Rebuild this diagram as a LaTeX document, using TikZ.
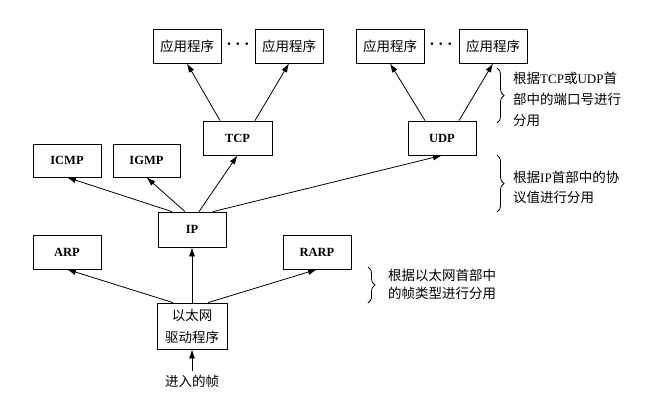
\documentclass[tikz,border=0pt]{standalone}
\usepackage{fontspec}
\setmainfont{Liberation Serif}
\newfontfamily\cjk{Noto Sans CJK SC}
\usetikzlibrary{arrows.meta,decorations.pathreplacing}
\begin{document}
\begin{tikzpicture}[x=1pt,y=-1pt,
  box/.style={draw,line width=0.8pt,inner sep=0pt,minimum width=68pt,minimum height=34pt},
  lbl/.style={font=\fontsize{12.5}{14}\selectfont\bfseries},
  cn/.style={font=\fontsize{13.5}{14}\selectfont\cjk},
  arr/.style={line width=0.8pt,-{Latex[length=9pt,width=6pt]}},
  brc/.style={decorate,decoration={brace,amplitude=7pt},line width=0.8pt},
  note/.style={anchor=west,align=left,inner sep=0pt},
  dotsty/.style={font=\fontsize{17}{17}\selectfont\boldmath},
]
\fill[white] (0,0) rectangle (670,402);
\useasboundingbox (0,0) rectangle (670,402);

% application boxes
\node[box,cn] (app1) at (187,46) {应用程序};
\node[box,cn] (app2) at (289,46) {应用程序};
\node[box,cn] (app3) at (390,46) {应用程序};
\node[box,cn] (app4) at (493,46) {应用程序};
\node[dotsty] (dots1) at (238,44) {$\cdots$};
\node[dotsty] (dots2) at (441,44) {$\cdots$};

% transport
\node[box,lbl,minimum width=69pt] (tcp) at (237.5,138) {TCP};
\node[box,lbl] (udp) at (442,138) {UDP};

% network
\node[box,lbl,minimum height=33pt] (icmp) at (67,160.5) {ICMP};
\node[box,lbl,minimum height=33pt,minimum width=67pt] (igmp) at (146.5,160.5) {IGMP};
\node[box,lbl,minimum height=35pt] (ip) at (192,229.5) {IP};

% link
\node[box,lbl] (arp) at (67,252) {ARP};
\node[box,lbl] (rarp) at (317,252) {RARP};
\node[box,cn,minimum width=70pt,minimum height=46pt,align=center,
      font=\fontsize{13.5}{22}\selectfont\cjk] (eth) at (192,326) {以太网\\驱动程序};
\node[cn] (frame) at (192,381) {进入的帧};

% connectors
\draw[arr] (frame.north) -- (eth.south);
\draw[arr] ([xshift=-19pt]eth.north) -- (arp.south);
\draw[arr] (eth.north) -- (ip.south);
\draw[arr] ([xshift=16pt]eth.north) -- (rarp.south);

\draw[arr] ([xshift=-20pt]ip.north) -- (icmp.south);
\draw[arr] ([xshift=-7pt]ip.north) -- (igmp.south);
\draw[arr] ([xshift=7pt]ip.north) -- (tcp.south);
\draw[arr] ([xshift=21pt]ip.north) -- (udp.south);

\draw[arr] ([xshift=-17.5pt]tcp.north) -- (app1.south);
\draw[arr] ([xshift=17.5pt]tcp.north) -- (app2.south);
\draw[arr] ([xshift=-17pt]udp.north) -- (app3.south);
\draw[arr] ([xshift=17pt]udp.north) -- (app4.south);

% braces and notes
\coordinate (b1a) at (497,68);
\coordinate (b1b) at (497,123);
\draw[brc] (b1a) -- (b1b);
\node[note,font=\fontsize{13}{21}\selectfont] (n1) at (513,99)
  {{\cjk\fontsize{13.5}{21}\selectfont 根据}TCP{\cjk\fontsize{13.5}{21}\selectfont 或}UDP{\cjk\fontsize{13.5}{21}\selectfont 首}\\{\cjk\fontsize{13.5}{21}\selectfont 部中的端口号进行}\\{\cjk\fontsize{13.5}{21}\selectfont 分用}};

\coordinate (b2a) at (497,155);
\coordinate (b2b) at (497,212);
\draw[brc] (b2a) -- (b2b);
\node[note,font=\fontsize{13}{20}\selectfont] (n2) at (513,187)
  {{\cjk\fontsize{13.5}{20}\selectfont 根据}IP{\cjk\fontsize{13.5}{20}\selectfont 首部中的协}\\{\cjk\fontsize{13.5}{20}\selectfont 议值进行分用}};

\coordinate (b3a) at (368,267);
\coordinate (b3b) at (368,303);
\draw[brc] (b3a) -- (b3b);
\node[note,font=\fontsize{13.5}{18}\selectfont\cjk] (n3) at (388,284)
  {根据以太网首部中\\的帧类型进行分用};
\end{tikzpicture}
\end{document}
